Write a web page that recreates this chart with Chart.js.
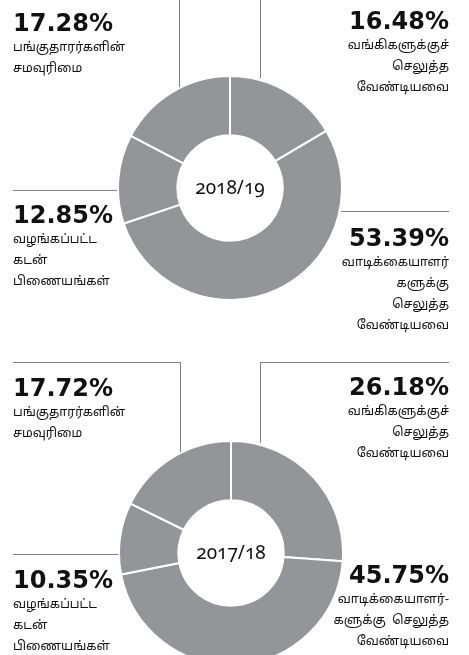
<!DOCTYPE html>
<html lang="ta">
<head>
<meta charset="utf-8">
<script src="https://cdn.jsdelivr.net/npm/chart.js@4"></script>
<style>
  body { margin: 0; background: #fff; }
  #page { position: relative; width: 469px; height: 655px; overflow: hidden; }
  .ring { position: absolute; width: 226px; height: 226px; }
  .year {
    position: absolute; width: 120px; margin-left: -60px; text-align: center;
    font-family: "Noto Sans", "Lato", sans-serif; font-size: 19px; color: #111;
    font-variant-numeric: oldstyle-nums; line-height: 20px;
  }
  .lbl { position: absolute; width: 190px; color: #111; }
  .lbl.left { left: 13px; text-align: left; }
  .lbl.right { right: 20px; text-align: right; }
  .pct { font-family: "DejaVu Sans", sans-serif; font-weight: bold; font-size: 24px; line-height: 24px; margin-bottom: 3px; }
  .txt { font-family: "Noto Sans Tamil", "Noto Sans", "Lohit Tamil", sans-serif; font-size: 12.5px; line-height: 21px; }
  .rule { position: absolute; background: #808080; }
</style>
</head>
<body>
<div id="page"></div>
<script>
// segment order runs clockwise from 12 o'clock
const years = ['2018/19', '2017/18'];
const banks = [16.48, 26.18];
const customers = [53.39, 45.75];
const loans = [12.85, 10.35];
const equity = [17.28, 17.72];

const bankLines = ['வங்கிகளுக்குச்', 'செலுத்த', 'வேண்டியவை'];
const customerLines = [
  ['வாடிக்கையாளர்', 'களுக்கு', 'செலுத்த', 'வேண்டியவை'],
  ['வாடிக்கையாளர்-', 'களுக்கு  செலுத்த', 'வேண்டியவை']
];
const loanLines = ['வழங்கப்பட்ட', 'கடன்', 'பிணையங்கள்'];
const equityLines = ['பங்குதாரர்களின்', 'சமவுரிமை'];

const page = document.getElementById('page');

// where each ring and its callouts sit on the page
const layout = [
  {
    cx: 230, cy: 188,
    tops: { equity: 11, banks: 9, loans: 203, customers: 226 },
    rules: [[179, 0, 1, 88], [260, 0, 1, 78], [13, 190, 107, 1], [341, 211, 108, 1]]
  },
  {
    cx: 231, cy: 553,
    tops: { equity: 376, banks: 375, loans: 568, customers: 563 },
    rules: [[13, 362, 167, 1], [180, 362, 1, 90], [260, 362, 189, 1], [260, 362, 1, 81], [13, 554, 107, 1]]
  }
];

const addLabel = (value, lines, side, top) => {
  const box = document.createElement('div');
  box.className = 'lbl ' + side;
  box.style.top = top + 'px';
  box.innerHTML = `<div class="pct">${value.toFixed(2)}%</div>` +
    lines.map(l => `<div class="txt">${l.replace(/  /g, '&nbsp;&nbsp;')}</div>`).join('');
  page.appendChild(box);
};

years.forEach((year, i) => {
  const pos = layout[i];

  pos.rules.forEach(([x, y, w, h]) => {
    const r = document.createElement('div');
    r.className = 'rule';
    Object.assign(r.style, { left: x + 'px', top: y + 'px', width: w + 'px', height: h + 'px' });
    page.appendChild(r);
  });

  const holder = document.createElement('div');
  holder.className = 'ring';
  holder.style.left = (pos.cx - 113) + 'px';
  holder.style.top = (pos.cy - 113) + 'px';
  const canvas = document.createElement('canvas');
  holder.appendChild(canvas);
  page.appendChild(holder);

  new Chart(canvas, {
    type: 'doughnut',
    data: {
      labels: ['banks', 'customers', 'loans', 'equity'],
      datasets: [{
        data: [banks[i], customers[i], loans[i], equity[i]],
        backgroundColor: '#939598',
        borderColor: '#ffffff',
        borderWidth: 2
      }]
    },
    options: {
      responsive: true,
      maintainAspectRatio: false,
      animation: false,
      cutout: '47%',
      events: [],
      plugins: { legend: { display: false }, tooltip: { enabled: false } }
    }
  });

  const label = document.createElement('div');
  label.className = 'year';
  label.textContent = year;
  label.style.left = pos.cx + 'px';
  label.style.top = (pos.cy - 11) + 'px';
  page.appendChild(label);

  addLabel(equity[i], equityLines, 'left', pos.tops.equity);
  addLabel(banks[i], bankLines, 'right', pos.tops.banks);
  addLabel(loans[i], loanLines, 'left', pos.tops.loans);
  addLabel(customers[i], customerLines[i], 'right', pos.tops.customers);
});
</script>
</body>
</html>
